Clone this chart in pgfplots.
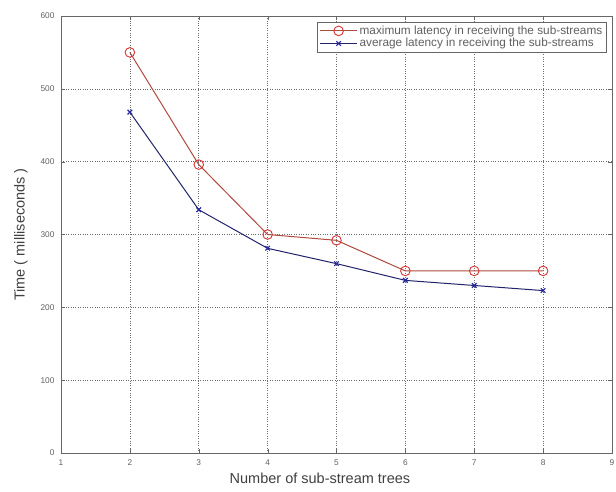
\documentclass[border=0pt]{standalone}
\usepackage{pgfplots}
\pgfplotsset{compat=1.18}
\usepackage{fontspec}
\setmainfont{Liberation Sans}
\definecolor{txt}{HTML}{606060}
\definecolor{redl}{HTML}{B04A3E}
\definecolor{redm}{HTML}{D83434}
\definecolor{bluel}{HTML}{22246A}
\definecolor{bluem}{HTML}{2626A0}
\begin{document}
\begin{tikzpicture}
\useasboundingbox (-61pt,-38pt) rectangle (555pt,453pt);
\begin{axis}[
  scale only axis, width=551pt, height=437pt,
  xmin=1, xmax=9, ymin=0, ymax=600,
  xtick={1,...,9}, ytick={0,100,...,600},
  grid=major, major grid style={dotted, gray!85!black, line width=0.6pt},
  tick align=inside, tick style={gray!80!black}, major tick length=4pt,
  axis line style={gray!80!black, line width=0.7pt},
  /pgf/number format/assume math mode=true,
  ticklabel style={font=\fontsize{8.3}{9}\selectfont, text=txt},
  xticklabel style={yshift=-3pt},
  yticklabel style={xshift=-3pt},
  xlabel={Number of sub-stream trees}, ylabel={Time ( milliseconds )},
  label style={font=\fontsize{14.5}{16}\selectfont, text=black!75},
  xlabel style={at={(axis description cs:0.47,-0.057)}, anchor=center},
  ylabel style={at={(axis description cs:-0.073,0.5)}, anchor=center},
  legend style={at={(0.99,0.987)}, anchor=north east, font=\fontsize{11.8}{12}\selectfont, text=txt, draw=gray!80!black, row sep=-1.5pt, inner sep=2pt},
  legend cell align=left,
  legend image code/.code={\draw[mark repeat=2,mark phase=2,#1] plot coordinates {(0cm,0cm) (0.65cm,0cm) (1.3cm,0cm)};},
]
\addplot[color=redl, line width=1pt, mark=o, mark size=4.8pt, mark options={draw=redm, line width=0.9pt}] coordinates {
(2,550) (3,396) (4,300) (5,292) (6,250) (7,250) (8,250)};
\addlegendentry{maximum latency in receiving the sub-streams}
\addplot[color=bluel, line width=1pt, mark=x, mark size=3.2pt, mark options={draw=bluem, line width=1.1pt}] coordinates {
(2,468) (3,334) (4,281) (5,260) (6,237) (7,230) (8,223)};
\addlegendentry{average latency in receiving the sub-streams}
\end{axis}
\end{tikzpicture}
\end{document}
